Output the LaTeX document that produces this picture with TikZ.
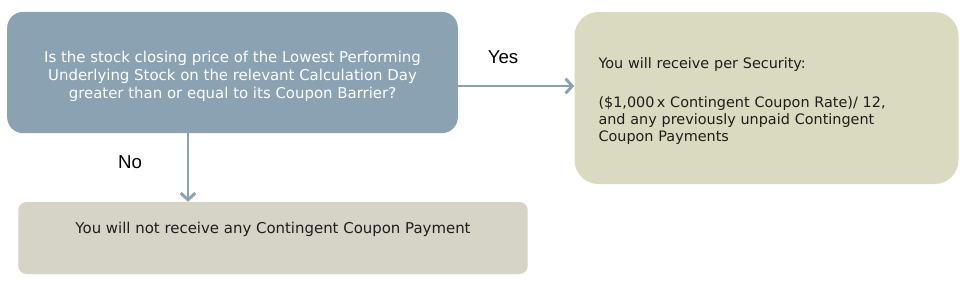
\documentclass[tikz,border=0pt]{standalone}
\usepackage{fontspec}
\setmainfont{DejaVu Sans}
\newfontfamily\lblfont{Liberation Sans}
\usepackage{xcolor}
\usetikzlibrary{arrows.meta,positioning}
\definecolor{qblue}{HTML}{8BA2B2}
\definecolor{yolive}{HTML}{DADAC0}
\definecolor{ngrey}{HTML}{D6D3C7}
\definecolor{txtdark}{HTML}{1E1E1E}

\begin{document}
\begin{tikzpicture}[x=0.75pt,y=-0.75pt]
\tikzset{
  qbox/.style={rectangle,rounded corners=12pt,fill=qblue,text=white,align=center,minimum width=338pt,minimum height=91pt,font=\fontsize{11.2}{13.5}\selectfont},
  ybox/.style={rectangle,rounded corners=18pt,fill=yolive,text=txtdark,align=left,text width=252pt,inner xsep=18pt,minimum height=129pt,font=\fontsize{10.8}{12.75}\selectfont},
  nbox/.style={rectangle,rounded corners=6pt,fill=ngrey,text=txtdark,align=center,minimum width=382pt,minimum height=54pt,text depth=16pt,font=\fontsize{11.2}{13}\selectfont},
  ar/.style={-{Straight Barb[length=5pt,width=11pt]},line width=2.2pt,draw=qblue},
  lb/.style={font=\lblfont\fontsize{14}{16}\selectfont,text=black}
}
\useasboundingbox (0,0) rectangle (969,280);
\node[qbox] (quest) at (232.5,72.5) {\rule{0pt}{14.5pt}Is the stock closing price of the Lowest Performing\\ Underlying Stock on the relevant Calculation Day\\ greater than or equal to its Coupon Barrier?};
\node[ybox] (pay) at (766.5,98) {\rule{0pt}{12.7pt}You will receive per Security:\\[17pt] (\$1,000\,x Contingent Coupon Rate)/ 12,\\ and any previously unpaid Contingent\\ Coupon Payments};
\node[nbox] (nopay) at (273,238) {You will not receive any Contingent Coupon Payment};
\draw[ar] (quest.east |- 0,86) -- (pay.west |- 0,86);
\draw[ar] (quest.south -| 188,0) -- (nopay.north -| 188,0);
\node[lb] (yes) at (503,57) {Yes};
\node[lb] (no) at (130,162) {No};
\end{tikzpicture}
\end{document}
